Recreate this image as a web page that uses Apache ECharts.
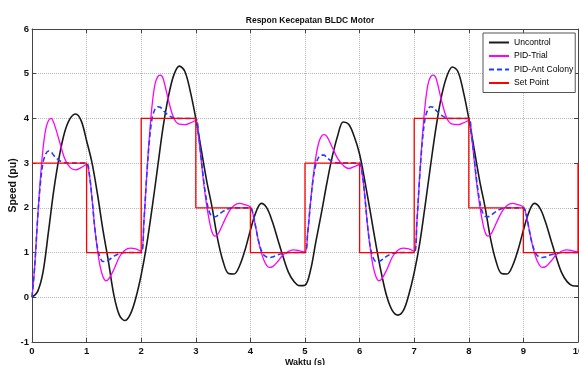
<!DOCTYPE html>
<html>
<head>
<meta charset="utf-8">
<script src="https://cdn.jsdelivr.net/npm/echarts@6/dist/echarts.min.js"></script>
<style>
  html, body { margin: 0; padding: 0; background: #fff; }
  #chart { width: 579px; height: 365px; }
</style>
</head>
<body>
<div id="chart"></div>
<script>
// data
const waktuUncontrol = [
  0, 0.1, 0.2, 0.3, 0.4, 0.5, 0.6, 0.7, 0.8, 0.9,
  1, 1.1, 1.2, 1.3, 1.4, 1.5, 1.6, 1.7, 1.8, 1.9,
  2, 2.1, 2.2, 2.3, 2.4, 2.5, 2.6, 2.7, 2.8, 2.9,
  3, 3.1, 3.2, 3.3, 3.4, 3.5, 3.6, 3.7, 3.8, 3.9,
  4, 4.1, 4.2, 4.3, 4.4, 4.5, 4.6, 4.7, 4.8, 4.9,
  5, 5.1, 5.2, 5.3, 5.4, 5.5, 5.6, 5.7, 5.8, 5.9,
  6, 6.1, 6.2, 6.3, 6.4, 6.5, 6.6, 6.7, 6.8, 6.9,
  7, 7.1, 7.2, 7.3, 7.4, 7.5, 7.6, 7.7, 7.8, 7.9,
  8, 8.1, 8.2, 8.3, 8.4, 8.5, 8.6, 8.7, 8.8, 8.9,
  9, 9.1, 9.2, 9.3, 9.4, 9.5, 9.6, 9.7, 9.8, 9.9,
  10,
];
const speedUncontrol = [
  0, 0.12, 0.55, 1.45, 2.4, 3.15, 3.7, 4.0, 4.1, 3.95,
  3.5, 3.0, 2.3, 1.5, 0.8, 0.05, -0.4, -0.52, -0.38, -0.02,
  0.5, 1.17, 2.0, 2.9, 3.8, 4.5, 4.98, 5.17, 5.05, 4.6,
  4.0, 3.3, 2.6, 2.0, 1.3, 0.8, 0.53, 0.52, 0.7, 1.05,
  1.5, 1.9, 2.1, 2.0, 1.7, 1.3, 0.9, 0.55, 0.35, 0.26,
  0.27, 0.6, 1.25, 1.88, 2.55, 3.15, 3.62, 3.92, 3.87, 3.6,
  3.2, 2.57, 1.88, 1.17, 0.53, 0.01, -0.3, -0.4, -0.3, 0.05,
  0.55, 1.2, 2.05, 2.95, 3.8, 4.5, 4.95, 5.15, 5.05, 4.6,
  4.0, 3.3, 2.6, 2.0, 1.3, 0.8, 0.53, 0.52, 0.7, 1.05,
  1.5, 1.9, 2.1, 2.0, 1.7, 1.3, 0.9, 0.55, 0.35, 0.26,
  0.25,
];

const waktuPID = [
  0, 0.05, 0.1, 0.15, 0.2, 0.25, 0.3, 0.35, 0.4, 0.5, 0.6, 0.7, 0.8, 0.9, 1,
  1.05, 1.1, 1.15, 1.2, 1.25, 1.3, 1.35, 1.4, 1.5, 1.6, 1.7, 1.8, 1.9, 2,
  2.05, 2.1, 2.15, 2.2, 2.25, 2.3, 2.35, 2.4, 2.5, 2.6, 2.7, 2.8, 2.9, 3,
  3.05, 3.1, 3.15, 3.2, 3.25, 3.3, 3.35, 3.4, 3.5, 3.6, 3.7, 3.8, 3.9, 4,
  4.05, 4.1, 4.15, 4.2, 4.25, 4.3, 4.35, 4.4, 4.5, 4.6, 4.7, 4.8, 4.9, 5,
  5.05, 5.1, 5.15, 5.2, 5.25, 5.3, 5.35, 5.4, 5.5, 5.6, 5.7, 5.8, 5.9, 6,
  6.05, 6.1, 6.15, 6.2, 6.25, 6.3, 6.35, 6.4, 6.5, 6.6, 6.7, 6.8, 6.9, 7,
  7.05, 7.1, 7.15, 7.2, 7.25, 7.3, 7.35, 7.4, 7.5, 7.6, 7.7, 7.8, 7.9, 8,
  8.05, 8.1, 8.15, 8.2, 8.25, 8.3, 8.35, 8.4, 8.5, 8.6, 8.7, 8.8, 8.9, 9,
  9.05, 9.1, 9.15, 9.2, 9.25, 9.3, 9.35, 9.4, 9.5, 9.6, 9.7, 9.8, 9.9, 10,
];
const speedPIDTrial = [
  0, 0.7, 1.7, 2.6, 3.3, 3.75, 3.95, 4.0, 3.9, 3.5, 3.1, 2.9, 2.85, 2.9, 2.97,
  2.75, 2.2, 1.55, 1.05, 0.68, 0.46, 0.37, 0.4, 0.62, 0.9, 1.05, 1.1, 1.08, 1.03,
  1.7, 2.7, 3.6, 4.3, 4.75, 4.93, 4.97, 4.9, 4.4, 4.0, 3.87, 3.86, 3.9, 3.95,
  3.6, 3.05, 2.5, 2.05, 1.7, 1.45, 1.37, 1.4, 1.65, 1.9, 2.05, 2.1, 2.07, 2.02,
  1.85, 1.55, 1.25, 1.0, 0.82, 0.71, 0.67, 0.68, 0.8, 0.95, 1.03, 1.06, 1.04, 1.01,
  1.45, 2.1, 2.7, 3.15, 3.45, 3.6, 3.64, 3.6, 3.35, 3.1, 2.95, 2.88, 2.92, 2.97,
  2.75, 2.2, 1.55, 1.05, 0.68, 0.46, 0.37, 0.4, 0.62, 0.9, 1.05, 1.1, 1.08, 1.03,
  1.7, 2.7, 3.6, 4.3, 4.75, 4.93, 4.97, 4.9, 4.4, 4.0, 3.87, 3.86, 3.9, 3.95,
  3.6, 3.05, 2.5, 2.05, 1.7, 1.45, 1.37, 1.4, 1.65, 1.9, 2.05, 2.1, 2.07, 2.02,
  1.85, 1.55, 1.25, 1.0, 0.82, 0.71, 0.67, 0.68, 0.8, 0.95, 1.03, 1.06, 1.04, 1.01,
];
const speedPIDAnt = [
  0, 0.7, 1.7, 2.5, 3.0, 3.2, 3.27, 3.25, 3.17, 3.06, 3.01, 3.0, 3.0, 3.0, 3.0,
  2.75, 2.2, 1.55, 1.1, 0.88, 0.8, 0.8, 0.83, 0.92, 0.98, 1.0, 1.0, 1.0, 1.0,
  1.7, 2.7, 3.5, 4.0, 4.2, 4.26, 4.25, 4.18, 4.07, 4.01, 4.0, 4.0, 4.0, 4.0,
  3.65, 3.1, 2.55, 2.15, 1.9, 1.81, 1.8, 1.83, 1.92, 1.98, 2.0, 2.0, 2.0, 2.0,
  1.85, 1.55, 1.25, 1.05, 0.94, 0.9, 0.89, 0.9, 0.95, 0.98, 1.0, 1.0, 1.0, 1.0,
  1.45, 2.1, 2.65, 2.98, 3.13, 3.18, 3.18, 3.12, 3.04, 3.0, 3.0, 3.0, 3.0, 3.0,
  2.75, 2.2, 1.55, 1.1, 0.88, 0.8, 0.8, 0.83, 0.92, 0.98, 1.0, 1.0, 1.0, 1.0,
  1.7, 2.7, 3.5, 4.0, 4.2, 4.26, 4.25, 4.18, 4.07, 4.01, 4.0, 4.0, 4.0, 4.0,
  3.65, 3.1, 2.55, 2.15, 1.9, 1.81, 1.8, 1.83, 1.92, 1.98, 2.0, 2.0, 2.0, 2.0,
  1.85, 1.55, 1.25, 1.05, 0.94, 0.9, 0.89, 0.9, 0.95, 0.98, 1.0, 1.0, 1.0, 1.0,
];

const waktuSetPoint = [0, 1, 2, 3, 4, 5, 6, 7, 8, 9, 10];
const speedSetPoint = [3, 1, 4, 2, 1, 3, 1, 4, 2, 1, 3];

const namaSeri = ["Uncontrol", "PID-Trial", "PID-Ant Colony", "Set Point"];

const pasang = (xs, ys) => xs.map((x, i) => [x, ys[i]]);

const fontAxis = "Liberation Sans, Arial, Helvetica, sans-serif";
const warnaAxis = "#444";

const option = {
  animation: false,
  backgroundColor: "#fff",
  title: {
    text: "Respon Kecepatan BLDC Motor",
    left: 305,
    top: 11,
    textAlign: "center",
    textStyle: {
      fontFamily: fontAxis,
      fontSize: 8.5,
      fontWeight: "bold",
      color: "#111",
    },
  },
  legend: {
    orient: "vertical",
    left: 483,
    top: 33,
    padding: [5, 2, 5, 5],
    itemWidth: 20,
    itemHeight: 10,
    itemGap: 4.5,
    backgroundColor: "#fff",
    borderColor: "#555",
    borderWidth: 1,
    borderRadius: 0,
    itemStyle: { opacity: 0 },
    textStyle: {
      fontFamily: fontAxis,
      fontSize: 8.6,
      color: "#000",
    },
    data: namaSeri,
  },
  grid: {
    left: 32,
    right: 1,
    top: 29,
    bottom: 23,
    containLabel: false,
    outerBoundsMode: "none",
  },
  xAxis: [
    {
      type: "value",
      min: 0,
      max: 10,
      interval: 1,
      name: "Waktu (s)",
      nameLocation: "middle",
      nameGap: 16,
      nameMoveOverlap: false,
      nameTextStyle: {
        fontFamily: fontAxis,
        fontSize: 9,
        fontWeight: "bold",
        color: "#111",
      },
      axisLine: { show: true, onZero: false, lineStyle: { color: warnaAxis, width: 1 } },
      axisTick: { show: true, inside: true, length: 4, lineStyle: { color: warnaAxis } },
      axisLabel: {
        fontFamily: fontAxis,
        fontSize: 9.5,
        fontWeight: "bold",
        color: "#111",
        margin: 4,
      },
      splitLine: {
        show: true,
        lineStyle: { color: "#b8b8b8", type: "dotted", width: 1 },
      },
    },
    {
      type: "value",
      position: "top",
      min: 0,
      max: 10,
      interval: 1,
      axisLine: { show: true, onZero: false, lineStyle: { color: warnaAxis, width: 1 } },
      axisTick: { show: true, inside: true, length: 4, lineStyle: { color: warnaAxis } },
      axisLabel: { show: false },
      splitLine: { show: false },
    },
  ],
  yAxis: [
    {
      type: "value",
      min: -1,
      max: 6,
      interval: 1,
      name: "Speed (pu)",
      nameLocation: "middle",
      nameGap: 13,
      nameMoveOverlap: false,
      nameTextStyle: {
        fontFamily: fontAxis,
        fontSize: 10.5,
        fontWeight: "bold",
        color: "#111",
      },
      axisLine: { show: true, onZero: false, lineStyle: { color: warnaAxis, width: 1 } },
      axisTick: { show: true, inside: true, length: 4, lineStyle: { color: warnaAxis } },
      axisLabel: {
        fontFamily: fontAxis,
        fontSize: 9.5,
        fontWeight: "bold",
        color: "#111",
        margin: 3,
      },
      splitLine: {
        show: true,
        lineStyle: { color: "#b8b8b8", type: "dotted", width: 1 },
      },
    },
    {
      type: "value",
      position: "right",
      min: -1,
      max: 6,
      interval: 1,
      axisLine: { show: true, onZero: false, lineStyle: { color: warnaAxis, width: 1 } },
      axisTick: { show: true, inside: true, length: 4, lineStyle: { color: warnaAxis } },
      axisLabel: { show: false },
      splitLine: { show: false },
    },
  ],
  series: [
    {
      name: "Uncontrol",
      type: "line",
      smooth: 0.35,
      symbol: "none",
      color: "#1a1a1a",
      lineStyle: { color: "#1a1a1a", width: 1.6 },
      data: pasang(waktuUncontrol, speedUncontrol),
    },
    {
      name: "PID-Trial",
      type: "line",
      smooth: 0.35,
      symbol: "none",
      color: "#ff00ff",
      lineStyle: { color: "#ff00ff", width: 1.3 },
      data: pasang(waktuPID, speedPIDTrial),
    },
    {
      name: "PID-Ant Colony",
      type: "line",
      smooth: 0.35,
      symbol: "none",
      color: "#1f3cff",
      lineStyle: { color: "#1f3cff", width: 1.6, type: [5, 3] },
      data: pasang(waktuPID, speedPIDAnt),
    },
    {
      name: "Set Point",
      type: "line",
      step: "end",
      symbol: "none",
      color: "#ff0000",
      lineStyle: { color: "#ff0000", width: 1.3 },
      data: pasang(waktuSetPoint, speedSetPoint),
    },
  ],
};

const chart = echarts.init(document.getElementById("chart"), null, { renderer: "canvas" });
chart.setOption(option);
</script>
</body>
</html>
